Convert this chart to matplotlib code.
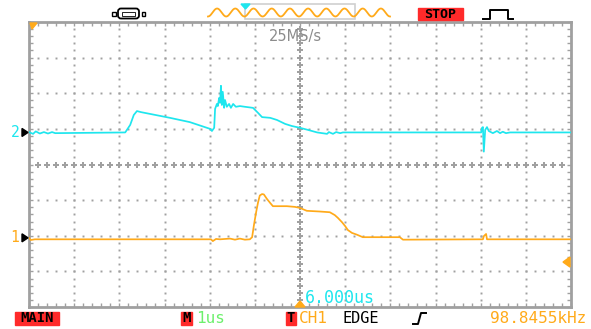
import numpy as np
import matplotlib
matplotlib.use("Agg")
import matplotlib.pyplot as plt
from matplotlib.patches import Rectangle, Polygon, FancyBboxPatch

# time in us (1 us/div, 12 div), level in divisions from screen centre
ch2_t = [0.00, 0.09, 0.15, 0.24, 0.33, 0.42, 0.51, 0.58, 2.13, 2.24, 2.32, 2.39, 2.48, 2.68, 3.12, 3.56,
         4.01, 4.05, 4.10, 4.12, 4.16, 4.18, 4.21, 4.23, 4.25, 4.27, 4.29, 4.32, 4.34, 4.38, 4.43, 4.47,
         4.52, 4.58, 4.67, 4.78, 4.96, 5.07, 5.16, 5.34, 5.49, 5.67, 5.82, 6.00, 6.18, 6.38, 6.60, 6.64,
         6.73, 6.80, 6.89, 6.95, 10.01, 10.03, 10.05, 10.07, 10.10, 10.14, 10.18, 10.27, 10.36, 10.43,
         10.49, 10.56, 10.65, 12.0]
ch2_v = [0.91, 0.86, 0.93, 0.87, 0.91, 0.87, 0.91, 0.88, 0.90, 1.11, 1.39, 1.50, 1.47, 1.42, 1.31, 1.19,
         1.00, 0.94, 1.03, 1.56, 1.70, 1.64, 1.87, 1.73, 2.21, 1.67, 2.04, 1.59, 1.81, 1.62, 1.70, 1.59,
         1.70, 1.62, 1.64, 1.62, 1.59, 1.45, 1.33, 1.31, 1.25, 1.14, 1.08, 1.03, 0.97, 0.90, 0.86, 0.91,
         0.86, 0.91, 0.88, 0.90, 0.90, 1.03, 1.05, 0.36, 0.97, 1.05, 0.94, 0.88, 0.94, 0.88,
         0.92, 0.88, 0.90, 0.90]

ch1_t = [0.00, 0.04, 0.13, 4.03, 4.07, 4.14, 4.23, 4.45, 4.56, 4.67, 4.78, 4.89, 4.94, 4.98, 5.03, 5.07,
         5.11, 5.16, 5.20, 5.27, 5.34, 5.40, 5.71, 5.89, 6.00, 6.15, 6.44, 6.66, 6.77, 6.84, 6.93, 7.00,
         7.06, 7.15, 7.26, 7.39, 8.21, 8.28, 10.05, 10.07, 10.12, 10.14, 12.0]
ch1_v = [-2.06, -2.12, -2.10, -2.10, -2.15, -2.09, -2.10, -2.08, -2.11, -2.08, -2.11, -2.10, -2.04, -1.70,
         -1.33, -1.07, -0.87, -0.83, -0.84, -0.97, -1.08, -1.17, -1.17, -1.19, -1.22, -1.30, -1.32, -1.34,
         -1.42, -1.50, -1.62, -1.73, -1.84, -1.92, -1.97, -2.04, -2.04, -2.11, -2.10, -2.01, -1.95, -2.10,
         -2.10]

ch2_ground = 0.90
ch1_ground = -2.06
trig_level = -2.74
trig_time = 6.0

CYAN = "#1ee6ee"
ORANGE = "#ffaa1a"
GRID = "#a0a0a0"
RED = "#ff2a2a"
MONO = "DejaVu Sans Mono"

W, H = 591, 329
fig = plt.figure(figsize=(W / 100, H / 100), dpi=100)
fig.patch.set_facecolor("white")

# screen area
ax = fig.add_axes([29 / W, (H - 307) / H, 542 / W, 285 / H])
ax.set_xlim(0, 12)
ax.set_ylim(-4, 4)
ax.set_facecolor("white")
for s in ax.spines.values():
    s.set_color(GRID)
    s.set_linewidth(2)
ax.set_xticks(np.arange(0, 12.01, 0.2))
ax.set_yticks(np.arange(-4, 4.01, 0.2))
ax.tick_params(direction="in", length=3, width=1, color=GRID,
               top=True, right=True, labelbottom=False, labelleft=False)

# dotted graticule
sub_x = np.arange(0.2, 12, 0.2)
sub_y = np.arange(-3.8, 4, 0.2)
for gx in range(1, 12):
    if gx == 6:
        continue
    ax.plot(np.full(len(sub_y), gx), sub_y, ls="none", marker="s", ms=1.4, color=GRID, mew=0)
for gy in range(-3, 4):
    if gy == 0:
        continue
    ax.plot(sub_x, np.full(len(sub_x), gy), ls="none", marker="s", ms=1.4, color=GRID, mew=0)
ax.plot(np.full(len(sub_y), 6), sub_y, ls="none", marker="P", ms=3.8, color=GRID, mew=0)
ax.plot(sub_x, np.zeros(len(sub_x)), ls="none", marker="P", ms=3.8, color=GRID, mew=0)

# traces
ax.plot(ch2_t, ch2_v, color=CYAN, lw=1.25, zorder=5)
ax.plot(ch1_t, ch1_v, color=ORANGE, lw=1.25, zorder=5)

# overlay in pixel units for the scope UI
ui = fig.add_axes([0, 0, 1, 1], facecolor="none")
ui.set_xlim(0, W)
ui.set_ylim(H, 0)
ui.axis("off")


def to_py(v):
    return 164.5 - v * 35.6


def to_px(t):
    return 29 + t * 45.17


# channel markers on the left
for v, lab, col in [(ch2_ground, "2", CYAN), (ch1_ground, "1", ORANGE)]:
    y = to_py(v)
    ui.add_patch(Polygon([[22, y - 4], [22, y + 4], [28, y]], closed=True, color="black"))
    ui.text(15, y, lab, color=col, fontsize=10.5, family=MONO, ha="center", va="center")

# trigger level / position markers
y = to_py(trig_level)
ui.add_patch(Polygon([[570, y - 5], [570, y + 5], [563, y]], closed=True, color=ORANGE))
x = to_px(trig_time)
ui.add_patch(Polygon([[x - 5, 307], [x + 5, 307], [x, 301]], closed=True, color=ORANGE))
ui.add_patch(Polygon([[30, 23], [37, 23], [32, 29]], closed=True, color=ORANGE))

# top bar
ui.add_patch(FancyBboxPatch((118, 8.5), 21, 10, boxstyle="round,pad=0,rounding_size=3",
                            fc="white", ec="black", lw=1.3))
ui.add_patch(Rectangle((122, 11.5), 13, 4, fc="none", ec="black", lw=0.6))
ui.add_patch(Rectangle((112, 12), 3.5, 3.5, fc="none", ec="black", lw=1))
ui.add_patch(Rectangle((141.5, 12), 3.5, 3.5, fc="none", ec="black", lw=1))

ui.add_patch(Rectangle((245, 4), 110, 15, fc="none", ec="#d0d0d0", lw=1.2))
wx = np.linspace(208, 390, 400)
ui.plot(wx, 12.5 + 4 * np.cos((wx - 208) / 18.2 * 2 * np.pi), color=ORANGE, lw=1.3)
ui.add_patch(Polygon([[241, 4], [250, 4], [245.5, 9]], closed=True, color=CYAN))

ui.add_patch(Rectangle((418, 8), 45, 12, color=RED))
ui.text(440.5, 14.2, "STOP", color="black", fontsize=9.5, family=MONO,
        fontweight="bold", ha="center", va="center")
ui.plot([483, 490, 490, 508, 508, 513], [19, 19, 10, 10, 19, 19], color="black", lw=1.4)

ui.text(295, 37, "25MS/s", color="#8c8c8c", fontsize=10.5, family="DejaVu Sans",
        ha="center", va="center")

# bottom status line
yb = 318.5
ui.add_patch(Rectangle((15, 312), 44, 13, color=RED))
ui.text(37, yb, "MAIN", color="black", fontsize=10, family=MONO, fontweight="bold",
        ha="center", va="center")
ui.add_patch(Rectangle((181, 312), 11, 13, color=RED))
ui.text(186.5, yb, "M", color="black", fontsize=10, family=MONO, fontweight="bold",
        ha="center", va="center")
ui.text(196, yb, "1us", color="#6cf06c", fontsize=11.5, family=MONO, ha="left", va="center")
ui.add_patch(Rectangle((286, 312), 10, 13, color=RED))
ui.text(291, yb, "T", color="black", fontsize=10, family=MONO, fontweight="bold",
        ha="center", va="center")
ui.text(299, yb, "CH1", color=ORANGE, fontsize=11.5, family=MONO, ha="left", va="center")
ui.text(343, yb, "EDGE", color="black", fontsize=11, family=MONO, ha="left", va="center")
ui.plot([413, 418, 421, 426], [324, 324, 313, 313], color="black", lw=1.4)
ui.text(586, yb, "98.8455kHz", color=ORANGE, fontsize=11.5, family=MONO, ha="right", va="center")
ui.text(305, 298, "6.000us", color=CYAN, fontsize=12, family=MONO, ha="left", va="center")

fig.savefig("out.png", dpi=100, facecolor="white")
